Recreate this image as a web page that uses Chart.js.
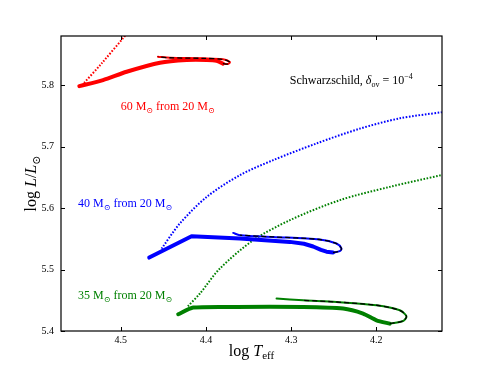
<!DOCTYPE html>
<html>
<head>
<meta charset="utf-8">
<script src="https://cdn.jsdelivr.net/npm/chart.js@4/dist/chart.umd.min.js"></script>
<style>
  html, body { margin: 0; padding: 0; background: #fff; }
</style>
</head>
<body>
<canvas id="grafico" width="491" height="368"></canvas>
<script>
// ---- dados (log Teff, log L/Lsun)
const xTicks = [4.5, 4.4, 4.3, 4.2];
const yTicks = [5.4, 5.5, 5.6, 5.7, 5.8];

// 60 Msun
const teff60Grosso = [4.5485, 4.5207, 4.4930, 4.4539, 4.4226, 4.3990, 4.3875, 4.3801];
const lum60Grosso = [5.7985, 5.8083, 5.8218, 5.8365, 5.8409, 5.8410, 5.8397, 5.8350];
const teff60Volta = [4.3801, 4.3740, 4.3719, 4.3801, 4.4035, 4.4422, 4.4563];
const lum60Volta = [5.8350, 5.8345, 5.8375, 5.8420, 5.8436, 5.8446, 5.8463];
const teff60Pontos = [4.5453, 4.5223, 4.4950, 4.4850];
const lum60Pontos = [5.8000, 5.8355, 5.8800, 5.8960];

// 40 Msun
const teff40Grosso = [4.4665, 4.4168, 4.3601, 4.3015, 4.2850, 4.2742, 4.2650, 4.2585, 4.2508];
const lum40Grosso = [5.5195, 5.5542, 5.5505, 5.5450, 5.5420, 5.5375, 5.5320, 5.5290, 5.5277];
const teff40Volta = [4.2508, 4.2430, 4.2409, 4.2468, 4.2664, 4.3211, 4.3601, 4.3680];
const lum40Volta = [5.5277, 5.5300, 5.5342, 5.5423, 5.5489, 5.5531, 5.5559, 5.5596];
const teff40Pontos = [4.4520, 4.4305, 4.3992, 4.3601, 4.3211, 4.2702, 4.2200, 4.1726, 4.1232];
const lum40Pontos = [5.5340, 5.5750, 5.6180, 5.6536, 5.6780, 5.7052, 5.7290, 5.7460, 5.7560];

// 35 Msun
const teff35Grosso = [4.4325, 4.4149, 4.3640, 4.2859, 4.2390, 4.2156, 4.1999, 4.1843];
const lum35Grosso = [5.4272, 5.4381, 5.4391, 5.4391, 5.4365, 5.4283, 5.4174, 5.4120];
const teff35Volta = [4.1843, 4.1687, 4.1647, 4.1726, 4.1999, 4.2468, 4.2859, 4.3171];
const lum35Volta = [5.4120, 5.4163, 5.4240, 5.4337, 5.4419, 5.4472, 5.4500, 5.4528];
const teff35Pontos = [4.4211, 4.4070, 4.3836, 4.3445, 4.3015, 4.2429, 4.1843, 4.1237];
const lum35Pontos = [5.4402, 5.4610, 5.5016, 5.5477, 5.5803, 5.6129, 5.6345, 5.6536];

const FONTE = '"Liberation Serif", "DejaVu Serif", serif';

function pares(xs, ys) {
  return xs.map((x, i) => ({ x: x, y: ys[i] }));
}

function serie(xs, ys, cor, largura, tracejado, tensao) {
  return {
    data: pares(xs, ys),
    showLine: true,
    borderColor: cor,
    borderWidth: largura,
    borderDash: tracejado || [],
    pointRadius: 0,
    tension: tensao === undefined ? 0.3 : tensao,
    fill: false,
    clip: 0,
    borderCapStyle: tracejado ? 'butt' : 'round',
    borderJoinStyle: 'round'
  };
}

// texto com partes (italico, subscrito...)
function larguraRica(ctx, partes) {
  let w = 0;
  partes.forEach(p => {
    ctx.font = (p.i ? 'italic ' : '') + p.s + 'px ' + FONTE;
    w += ctx.measureText(p.t).width;
  });
  return w;
}

function textoRico(ctx, partes, x, y, cor) {
  ctx.fillStyle = cor;
  ctx.textBaseline = 'alphabetic';
  ctx.textAlign = 'left';
  let cx = x;
  partes.forEach(p => {
    ctx.font = (p.i ? 'italic ' : '') + p.s + 'px ' + FONTE;
    ctx.fillText(p.t, cx, y + (p.dy || 0));
    cx += ctx.measureText(p.t).width;
  });
}

function rotuloMassa(m) {
  return [
    { t: m + ' M', s: 12 },
    { t: '\u2299', s: 8, dy: 3 },
    { t: ' from 20 M', s: 12 },
    { t: '\u2299', s: 8, dy: 3 }
  ];
}

const decoracao = {
  id: 'decoracao',
  afterDatasetsDraw(chart) {
    const ctx = chart.ctx;
    const a = chart.chartArea;
    const sx = chart.scales.x;
    const sy = chart.scales.y;
    ctx.save();

    // moldura
    ctx.strokeStyle = '#000';
    ctx.lineWidth = 1.2;
    ctx.strokeRect(a.left, a.top, a.right - a.left, a.bottom - a.top);

    // ticks para dentro, nos quatro lados
    ctx.lineWidth = 1;
    ctx.beginPath();
    xTicks.forEach(v => {
      const px = Math.round(sx.getPixelForValue(v)) + 0.5;
      ctx.moveTo(px, a.bottom); ctx.lineTo(px, a.bottom - 4);
      ctx.moveTo(px, a.top); ctx.lineTo(px, a.top + 4);
    });
    yTicks.forEach(v => {
      const py = Math.round(sy.getPixelForValue(v)) + 0.5;
      ctx.moveTo(a.left, py); ctx.lineTo(a.left + 4, py);
      ctx.moveTo(a.right, py); ctx.lineTo(a.right - 4, py);
    });
    ctx.stroke();

    // anotacoes
    textoRico(ctx, rotuloMassa('60'), sx.getPixelForValue(4.500), sy.getPixelForValue(5.766) + 4, '#ff0000');
    textoRico(ctx, rotuloMassa('40'), sx.getPixelForValue(4.550), sy.getPixelForValue(5.608) + 4, '#0000ff');
    textoRico(ctx, rotuloMassa('35'), sx.getPixelForValue(4.550), sy.getPixelForValue(5.458) + 4, '#008000');
    textoRico(ctx, [
      { t: 'Schwarzschild, ', s: 12 },
      { t: '\u03b4', s: 12, i: true },
      { t: 'ov', s: 8, dy: 3 },
      { t: ' = 10', s: 12 },
      { t: '\u22124', s: 8, dy: -5 }
    ], sx.getPixelForValue(4.3015), sy.getPixelForValue(5.808) + 4, '#000');

    // titulos dos eixos
    const tituloX = [
      { t: 'log ', s: 16 },
      { t: 'T', s: 16, i: true },
      { t: 'eff', s: 11, dy: 3 }
    ];
    const wx = larguraRica(ctx, tituloX);
    textoRico(ctx, tituloX, (a.left + a.right) / 2 - wx / 2, 356, '#000');

    const tituloY = [
      { t: 'log ', s: 16 },
      { t: 'L', s: 16, i: true },
      { t: '/', s: 16 },
      { t: 'L', s: 16, i: true },
      { t: '\u2299', s: 11, dy: 4 }
    ];
    const wy = larguraRica(ctx, tituloY);
    ctx.translate(36, (a.top + a.bottom) / 2);
    ctx.rotate(-Math.PI / 2);
    textoRico(ctx, tituloY, -wy / 2, 0, '#000');
    ctx.restore();
  }
};

// ordem de desenho: o ultimo da lista fica por cima
const camadas = [
  serie(teff60Pontos, lum60Pontos, '#ff0000', 2, [1.6, 1.6]),
  serie(teff40Pontos, lum40Pontos, '#0000ff', 2, [1.6, 1.6]),
  serie(teff35Pontos, lum35Pontos, '#008000', 2, [1.6, 1.6]),
  serie(teff60Grosso, lum60Grosso, '#ff0000', 4, null, 0.25),
  serie(teff60Volta, lum60Volta, '#ff0000', 2),
  serie(teff60Volta, lum60Volta, '#000000', 1.3, [5, 3]),
  serie(teff40Grosso, lum40Grosso, '#0000ff', 4, null, 0),
  serie(teff40Volta, lum40Volta, '#0000ff', 2),
  serie(teff40Volta.slice(0, 7), lum40Volta.slice(0, 7), '#000000', 1.3, [5, 3]),
  serie(teff35Grosso, lum35Grosso, '#008000', 4, null, 0.2),
  serie(teff35Volta, lum35Volta, '#008000', 2),
  serie(teff35Volta.slice(0, 7), lum35Volta.slice(0, 7), '#000000', 1.3, [5, 3])
];

const ctx = document.getElementById('grafico').getContext('2d');
const grafico = new Chart(ctx, {
  type: 'scatter',
  data: { datasets: camadas.slice().reverse() },
  options: {
    responsive: false,
    animation: false,
    layout: { padding: { top: 36, right: 49, left: 0, bottom: 0 } },
    plugins: {
      legend: { display: false },
      tooltip: { enabled: false }
    },
    scales: {
      x: {
        type: 'linear',
        reverse: true,
        min: 4.123,
        max: 4.570,
        afterBuildTicks: s => { s.ticks = xTicks.map(v => ({ value: v })); },
        afterFit: s => { s.height = 37; },
        grid: { display: false, drawTicks: false },
        border: { display: false },
        ticks: {
          padding: 3,
          autoSkip: false,
          maxRotation: 0,
          color: '#000',
          font: { family: FONTE, size: 10 },
          callback: v => v.toFixed(1)
        }
      },
      y: {
        type: 'linear',
        min: 5.4,
        max: 5.88,
        afterBuildTicks: s => { s.ticks = yTicks.map(v => ({ value: v })); },
        afterFit: s => { s.width = 61; },
        grid: { display: false, drawTicks: false },
        border: { display: false },
        ticks: {
          padding: 7,
          autoSkip: false,
          color: '#000',
          font: { family: FONTE, size: 10 },
          callback: v => v.toFixed(1)
        }
      }
    }
  },
  plugins: [decoracao]
});
</script>
</body>
</html>
